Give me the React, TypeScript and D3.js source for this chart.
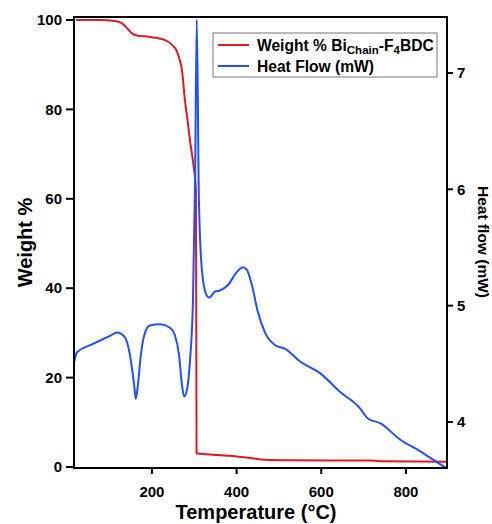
import React from 'react'
import * as d3 from 'd3'

// TGA weight curve (temperature °C, weight %)
const weightTemp = [21, 77, 113, 129, 143, 153, 162, 195, 231, 247, 259, 266, 271, 278, 285, 290, 299, 304, 305.5, 307, 337, 384, 432, 467, 526, 715, 739, 897]
const weightVals = [100, 100, 99.8, 99.3, 98, 97, 96.6, 96.2, 95.5, 94.5, 93, 91, 88.8, 82, 77, 73, 67, 62, 3.1, 3.0, 2.8, 2.5, 2.0, 1.6, 1.5, 1.45, 1.3, 1.2]

// DSC heat flow curve (temperature °C, mW)
const heatTemp = [16, 23, 54, 101, 118, 136, 148, 158, 162, 167, 174, 184, 195, 219, 243, 254, 264, 271, 276, 283, 290, 297, 302, 306, 311, 318, 328, 335, 349, 361, 380, 401, 415, 424, 436, 450, 467, 491, 514, 550, 597, 644, 691, 710, 739, 786, 833, 871, 897]
const heatVals = [4.51, 4.6, 4.66, 4.74, 4.77, 4.73, 4.58, 4.32, 4.2, 4.32, 4.58, 4.77, 4.83, 4.84, 4.81, 4.75, 4.58, 4.32, 4.22, 4.28, 4.53, 5.05, 6.08, 7.46, 5.91, 5.31, 5.1, 5.07, 5.12, 5.13, 5.18, 5.29, 5.33, 5.31, 5.18, 4.95, 4.77, 4.66, 4.63, 4.52, 4.42, 4.26, 4.12, 4.03, 3.99, 3.85, 3.75, 3.66, 3.6]

const xTicks = [200, 400, 600, 800]
const yTicks = [0, 20, 40, 60, 80, 100]
const y2Ticks = [4, 5, 6, 7]

const W = 492
const H = 524
const left = 74
const right = 447
const top = 17
const bottom = 468

const RED = '#e8161e'
const BLUE = '#1e50ff'
const FONT = '"Liberation Sans", Arial, sans-serif'

export default function App() {
  const x = d3.scaleLinear().domain([16, 897]).range([left, right])
  const y = d3.scaleLinear().domain([0, 100]).range([467, 20])
  const y2 = d3.scaleLinear().domain([4, 7]).range([422, 73])

  const weightLine = d3.line<number>()
    .x((d, i) => x(weightTemp[i]))
    .y(d => y(d))
    .curve(d3.curveMonotoneX)
  const heatLine = d3.line<number>()
    .x((d, i) => x(heatTemp[i]))
    .y(d => y2(d))
    .curve(d3.curveMonotoneX)

  return (
    <svg width={W} height={H} style={{ position: 'absolute', left: 0, top: 0, background: '#fff' }}
      fontFamily={FONT} fontWeight="bold">
      <defs>
        <clipPath id="plot">
          <rect x={left} y={top} width={right - left} height={bottom - top} />
        </clipPath>
      </defs>

      <g clipPath="url(#plot)">
        <path d={weightLine(weightVals) || ''} fill="none" stroke={RED} strokeWidth={2} />
        <path d={heatLine(heatVals) || ''} fill="none" stroke={BLUE} strokeWidth={2} />
      </g>

      {/* frame */}
      <rect x={left} y={top} width={right - left} height={bottom - top} fill="none" stroke="#000" strokeWidth={2} />

      {/* bottom axis */}
      {xTicks.map(t => (
        <g key={t} transform={`translate(${x(t)},${bottom})`}>
          <line y1={0} y2={6} stroke="#000" strokeWidth={2} />
          <text y={29} textAnchor="middle" fontSize={15}>{t}</text>
        </g>
      ))}

      {/* left axis */}
      {yTicks.map(t => (
        <g key={t} transform={`translate(${left},${y(t)})`}>
          <line x1={0} x2={-8} stroke="#000" strokeWidth={2} />
          <text x={-12} dy="0.35em" textAnchor="end" fontSize={15}>{t}</text>
        </g>
      ))}

      {/* right axis */}
      {y2Ticks.map(t => (
        <g key={t} transform={`translate(${right},${y2(t)})`}>
          <line x1={0} x2={6} stroke="#000" strokeWidth={2} />
          <text x={10} dy="0.35em" textAnchor="start" fontSize={15}>{t}</text>
        </g>
      ))}

      {/* axis titles */}
      <text x={256} y={519} textAnchor="middle" fontSize={20}>Temperature (°C)</text>
      <text transform={`translate(32,${(top + bottom) / 2}) rotate(-90)`} textAnchor="middle" fontSize={20}>Weight %</text>
      <text transform={`translate(478,242) rotate(90)`} textAnchor="middle" fontSize={15.5}>Heat flow (mW)</text>

      {/* legend */}
      <g>
        <rect x={213} y={33} width={224} height={44} fill="#fff" stroke="#777" strokeWidth={1} />
        <line x1={218} x2={249} y1={45} y2={45} stroke={RED} strokeWidth={2} />
        <line x1={218} x2={249} y1={66} y2={66} stroke={BLUE} strokeWidth={2} />
        <text x={257} y={50.5} fontSize={15.6}>
          Weight % Bi<tspan fontSize={11.5} dy={3}>Chain</tspan><tspan dy={-3}>-F</tspan><tspan fontSize={11.5} dy={3}>4</tspan><tspan dy={-3}>BDC</tspan>
        </text>
        <text x={257} y={71.5} fontSize={15.6}>Heat Flow (mW)</text>
      </g>
    </svg>
  )
}
